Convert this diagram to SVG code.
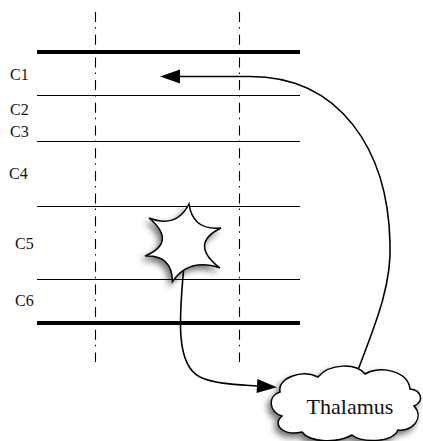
<svg xmlns="http://www.w3.org/2000/svg" width="423" height="441" viewBox="0 0 423 441">
<style>
.lbl{font-family:'Liberation Serif','Times New Roman',Times,serif;font-size:16px;fill:#111}
.thick{stroke:#000;stroke-width:4}
.thin{stroke:#000;stroke-width:1.1}
.axis{stroke:#000;stroke-width:1.1;stroke-dasharray:10 5 1.5 6.2;fill:none}
.conn{fill:none;stroke:#000;stroke-width:1.6}
.shape{fill:#fff;stroke:#000;stroke-width:1.5;filter:url(#sh)}
</style>
<defs>
<filter id="sh" x="-30%" y="-30%" width="160%" height="160%">
<feDropShadow dx="-3" dy="4" stdDeviation="3" flood-color="#000" flood-opacity="0.55"/>
</filter>
<marker id="arr" markerUnits="userSpaceOnUse" markerWidth="22" markerHeight="16" refX="0" refY="8" orient="auto" overflow="visible">
<path d="M0,1 L20,8 L0,15 Z" fill="#000"/>
</marker>
</defs>
<g id="layers">
<line class="thick" x1="37" y1="52" x2="300" y2="52"/>
<line class="thin" x1="37" y1="95.5" x2="300" y2="95.5"/>
<line class="thin" x1="37" y1="141.5" x2="300" y2="141.5"/>
<line class="thin" x1="37" y1="206.5" x2="300" y2="206.5"/>
<line class="thin" x1="37" y1="279.5" x2="300" y2="279.5"/>
<line class="thick" x1="37" y1="323" x2="300" y2="323"/>
<line class="axis" x1="95.5" y1="12" x2="95.5" y2="362"/>
<line class="axis" x1="239.5" y1="12" x2="239.5" y2="362"/>
</g>
<g id="labels">
<text class="lbl" x="10" y="80">C1</text>
<text class="lbl" x="10" y="115">C2</text>
<text class="lbl" x="10" y="136.5">C3</text>
<text class="lbl" x="9" y="179">C4</text>
<text class="lbl" x="15" y="249">C5</text>
<text class="lbl" x="15" y="306">C6</text>
</g>
<g id="lesion">
<path class="shape" d="M189,204 Q192.9,230.9 221,228 Q188.6,243.8 220,268 Q189,257.3 172.5,281.5 Q172.1,254.6 145,256 Q177.6,242.1 149,218 Q176.7,228.6 189,204 Z"/>
</g>
<g id="connectors">
<path class="conn" d="M358,370 C375,325 392,285 390,243 C388,150 340,76.5 250,76.5 L180,76.5" marker-end="url(#arr)"/>
<path class="conn" d="M183.5,271 C179,320 176,365 200,377 C215,384 235,384.5 257,386" marker-end="url(#arr)"/>
</g>
<g id="thalamus">
<path class="shape" d="M280,392 C277,378 302,369 318,377 C330,363 356,363 365,374 C380,365 408,371 410,389 C421,390 425,401 414,406 C425,418 412,432 398,430 C392,443 362,443 352,435 C338,443 310,443 302,432 C285,436 271,426 282,416 C269,412 267,396 280,392 Z"/>
<text class="lbl" x="350" y="414" text-anchor="middle" style="font-size:22px">Thalamus</text>
</g>
</svg>
